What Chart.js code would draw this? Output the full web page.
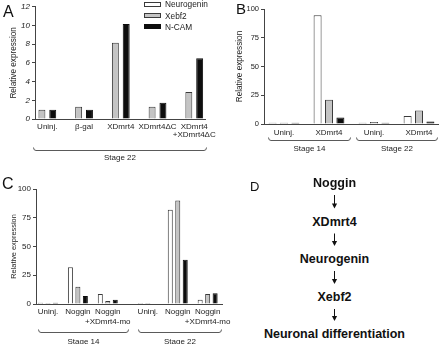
<!DOCTYPE html>
<html>
<head>
<meta charset="utf-8">
<script src="https://cdn.jsdelivr.net/npm/chart.js@4/dist/chart.umd.min.js"></script>
<style>
  html, body { margin: 0; padding: 0; background: #fff; }
  body { width: 440px; height: 344px; position: relative; overflow: hidden;
         font-family: "Liberation Sans", Arial, sans-serif; color: #111; }
  canvas { position: absolute; }
  .letter { position: absolute; line-height: 1; }
  .step { position: absolute; left: 334.5px; transform: translate(-50%, -50%);
          font-weight: bold; font-size: 12.5px; line-height: 1; white-space: nowrap; color: #111; }
  svg { position: absolute; left: 0; top: 0; }
</style>
</head>
<body>
<canvas id="chartA" width="220" height="170" style="left:0;top:0"></canvas>
<canvas id="chartB" width="220" height="170" style="left:220px;top:0"></canvas>
<canvas id="chartC" width="240" height="174" style="left:0;top:170px"></canvas>

<div class="letter" style="left:3px;top:4.4px;font-size:16px">A</div>
<div class="letter" style="left:236px;top:0.5px;font-size:15px">B</div>
<div class="letter" style="left:2px;top:176px;font-size:16px">C</div>
<div class="letter" style="left:250px;top:180.3px;font-size:13px">D</div>

<div id="pathway"></div>

<script>
// ---- series shared by all three bar panels ----
const seriesNames = ['Neurogenin', 'Xebf2', 'N-CAM'];

// ---- panel A: stage 22 (Neurogenin not measured) ----
const categoriesA = ['Uninj.', 'β-gal', 'XDmrt4', 'XDmrt4ΔC', ['XDmrt4', '+XDmrt4ΔC']];
const neurogeninA = [null, null, null, null, null];
const xebf2A      = [1.0, 1.3, 8.15, 1.3, 2.9];
const ncamA       = [1.0, 1.0, 10.15, 1.75, 6.5];
const yTicksA     = [0, 2, 4, 6, 8, 10, 12];
const stagesA     = [{ label: 'Stage 22', count: 5 }];

// ---- panel B: stage 14 and stage 22 ----
const categoriesB = ['Uninj.', 'XDmrt4', 'Uninj.', 'XDmrt4'];
const neurogeninB = [1.0, 94.5, 1.0, 7.0];
const xebf2B      = [1.0, 21.0, 1.8, 11.8];
const ncamB       = [1.0, 5.6, 1.0, 2.2];
const yTicksB     = [0, 25, 50, 75, 100];
const stagesB     = [{ label: 'Stage 14', count: 2 }, { label: 'Stage 22', count: 2 }];

// ---- panel C: Noggin caps, with and without XDmrt4 morpholino ----
const categoriesC = ['Uninj.', 'Noggin', ['Noggin', '+XDmrt4-mo'], 'Uninj.', 'Noggin', ['Noggin', '+XDmrt4-mo']];
const neurogeninC = [1.0, 32.0, 8.8, 0.9, 82.0, 3.6];
const xebf2C      = [0.9, 15.0, 2.6, 0.1, 90.0, 8.6];
const ncamC       = [1.0, 7.0, 3.6, 0.4, 38.5, 9.4];
const yTicksC     = [0, 25, 50, 75, 100];
const stagesC     = [{ label: 'Stage 14', count: 3 }, { label: 'Stage 22', count: 3 }];

// ---- panel D: proposed cascade ----
const cascade = ['Noggin', 'XDmrt4', 'Neurogenin', 'Xebf2', 'Neuronal differentiation'];

// ---- styling ----
const FONT = '"Liberation Sans", Arial, sans-serif';
const AXIS = '#444';
const TEXT = '#1c1c1c';
const fills   = ['#ffffff', '#c4c4c4', '#0d0d0d'];
const strokes = ['#3a3a3a', '#3a3a3a', '#0d0d0d'];

// Bracket under each stage group with its label
const stageBrackets = {
  id: 'stageBrackets',
  afterDraw(chart, args, o) {
    if (!o || !o.items) return;
    const { ctx } = chart;
    const xs = chart.scales.x;
    ctx.save();
    ctx.strokeStyle = o.color;
    ctx.lineWidth = 1;
    ctx.fillStyle = o.textColor;
    ctx.font = o.font;
    ctx.textAlign = 'center';
    ctx.textBaseline = 'middle';
    const y = Math.round(o.y) + 0.5;
    o.items.forEach(it => {
      const x0 = Math.round(xs.getPixelForValue(it.from)) + 0.5;
      const x1 = Math.round(xs.getPixelForValue(it.to)) + 0.5;
      ctx.beginPath();
      ctx.moveTo(x0, y - o.hook);
      ctx.quadraticCurveTo(x0, y, x0 + 2.5, y);
      ctx.lineTo(x1 - 2.5, y);
      ctx.quadraticCurveTo(x1, y, x1, y - o.hook);
      ctx.stroke();
      ctx.fillText(it.label, (x0 + x1) / 2, o.textY);
    });
    ctx.restore();
  }
};

// Small swatch legend listing the series
const boxLegend = {
  id: 'boxLegend',
  afterDraw(chart, args, o) {
    if (!o || !o.show) return;
    const { ctx } = chart;
    ctx.save();
    ctx.font = o.font;
    ctx.textAlign = 'left';
    ctx.textBaseline = 'middle';
    chart.data.datasets.forEach((ds, i) => {
      const cy = o.y + i * o.row;
      const top = Math.round(cy - o.boxH / 2);
      ctx.fillStyle = ds.backgroundColor;
      ctx.fillRect(o.x, top, o.boxW, o.boxH);
      ctx.strokeStyle = ds.borderColor;
      ctx.lineWidth = 1;
      ctx.strokeRect(o.x + 0.5, top + 0.5, o.boxW - 1, o.boxH - 1);
      ctx.fillStyle = o.color;
      ctx.fillText(ds.label, o.x + o.boxW + 4, cy + 0.5);
    });
    ctx.restore();
  }
};

// Category positions along the x axis, with an optional gap between stages
function stagePositions(stages, gap) {
  const pos = [];
  let x = 0;
  stages.forEach((s, k) => {
    if (k > 0) x += gap;
    for (let i = 0; i < s.count; i++) { pos.push(x); x += 1; }
  });
  return pos;
}

function makePanel(id, p) {
  const pos = stagePositions(p.stages, p.stageGap);
  const datasets = seriesNames.map((name, s) => ({
    label: name,
    data: p.values[s].map((v, i) => ({ x: pos[i], y: v })),
    backgroundColor: fills[s],
    borderColor: strokes[s],
    borderWidth: 1,
    categoryPercentage: p.catPct,
    barPercentage: p.barPct,
    skipNull: true
  }));

  // bracket spans, derived from the stage groups
  let start = 0;
  const items = p.stages.map((s, k) => {
    const first = pos[start], last = pos[start + s.count - 1];
    start += s.count;
    const pad = p.bracketPad[k];
    return { label: s.label, from: first - pad[0], to: last + pad[1] };
  });

  return new Chart(document.getElementById(id), {
    type: 'bar',
    data: { datasets },
    options: {
      responsive: false,
      animation: false,
      devicePixelRatio: 1,
      layout: { padding: p.padding },
      plugins: {
        legend: { display: false },
        tooltip: { enabled: false },
        stageBrackets: {
          items, y: p.bracketY, textY: p.bracketTextY, hook: 3,
          color: '#5a5a5a', textColor: TEXT, font: '8px ' + FONT
        },
        boxLegend: p.legend || { show: false }
      },
      scales: {
        x: {
          type: 'linear',
          offset: false,
          min: p.xMin, max: p.xMax,
          grid: { display: false, drawTicks: false, offset: false },
          border: { display: true, color: AXIS, width: 1 },
          afterBuildTicks: s => { s.ticks = pos.map(v => ({ value: v })); },
          afterFit: s => { s.height = p.xHeight; },
          ticks: {
            autoSkip: false, maxRotation: 0, minRotation: 0,
            padding: p.xPad, color: TEXT,
            font: { family: FONT, size: p.xFont, lineHeight: p.xLine },
            callback: (v, i) => p.categories[i]
          }
        },
        y: {
          min: 0, max: p.yTicks[p.yTicks.length - 1],
          afterBuildTicks: s => { s.ticks = p.yTicks.map(v => ({ value: v })); },
          afterFit: s => { s.width = p.yWidth; },
          grid: { display: true, drawOnChartArea: false, drawTicks: true, tickLength: 3, color: AXIS, lineWidth: 1 },
          border: { display: true, color: AXIS, width: 1 },
          ticks: {
            padding: 2, color: TEXT,
            font: { family: FONT, size: p.yFont, style: p.yStyle || 'normal' }
          },
          title: {
            display: true, text: 'Relative expression', color: TEXT,
            font: { family: FONT, size: p.titleFont, lineHeight: 1.2 },
            padding: { top: p.titlePad, bottom: 0 }
          }
        }
      }
    },
    plugins: [stageBrackets, boxLegend]
  });
}

makePanel('chartA', {
  categories: categoriesA, stages: stagesA, stageGap: 0,
  values: [neurogeninA, xebf2A, ncamA], yTicks: yTicksA,
  catPct: 0.59, barPct: 0.64,
  xMin: -0.3356, xMax: 4.309,
  padding: { top: 5, right: 12, left: 0, bottom: 0 },
  yWidth: 35, xHeight: 51,
  xPad: 3.5, xFont: 8, xLine: 1.05,
  yFont: 8, yStyle: 'italic', titleFont: 8.2, titlePad: 8.7,
  bracketPad: [[0.39, 0.31]], bracketY: 149.5, bracketTextY: 158,
  legend: { show: true, x: 144, y: 4.7, row: 11.1, boxW: 17, boxH: 5,
            font: '8.3px ' + FONT, color: TEXT }
});

makePanel('chartB', {
  categories: categoriesB, stages: stagesB, stageGap: 0,
  values: [neurogeninB, xebf2B, ncamB], yTicks: yTicksB,
  catPct: 0.76, barPct: 0.7,
  xMin: -0.444, xMax: 3.422,
  padding: { top: 9, right: 2, left: 0, bottom: 0 },
  yWidth: 44, xHeight: 46,
  xPad: 3.9, xFont: 8, xLine: 1.2,
  yFont: 7.5, titleFont: 8.2, titlePad: 15.2,
  bracketPad: [[0.356, 0.467], [0.4, 0.4]], bracketY: 140, bracketTextY: 149
});

makePanel('chartC', {
  categories: categoriesC, stages: stagesC, stageGap: 0.34,
  values: [neurogeninC, xebf2C, ncamC], yTicks: yTicksC,
  catPct: 0.75, barPct: 0.67,
  xMin: -0.401, xMax: 5.82,
  padding: { top: 19, right: 18, left: 0, bottom: 0 },
  yWidth: 36, xHeight: 40,
  xPad: 2.8, xFont: 8, xLine: 1.25,
  yFont: 8, titleFont: 7.4, titlePad: 9.5,
  bracketPad: [[0.334, 0.676], [0.33, 0.45]], bracketY: 162, bracketTextY: 172
});

// ---- panel D: cascade with arrows ----
(function drawCascade() {
  const host = document.getElementById('pathway');
  const rowY = [183, 221.5, 259, 297, 334];
  cascade.forEach((t, i) => {
    const d = document.createElement('div');
    d.className = 'step';
    d.style.top = rowY[i] + 'px';
    d.textContent = t;
    host.appendChild(d);
  });
  const ns = 'http://www.w3.org/2000/svg';
  const svg = document.createElementNS(ns, 'svg');
  svg.setAttribute('width', '440');
  svg.setAttribute('height', '344');
  const ax = 334.5;
  for (let i = 0; i < cascade.length - 1; i++) {
    const y0 = rowY[i] + 12, y1 = rowY[i + 1] - 13;
    const line = document.createElementNS(ns, 'line');
    line.setAttribute('x1', ax); line.setAttribute('x2', ax);
    line.setAttribute('y1', y0); line.setAttribute('y2', y1 - 4);
    line.setAttribute('stroke', '#111'); line.setAttribute('stroke-width', '1');
    svg.appendChild(line);
    const head = document.createElementNS(ns, 'polygon');
    head.setAttribute('points', `${ax - 2.6},${y1 - 5} ${ax + 2.6},${y1 - 5} ${ax},${y1}`);
    head.setAttribute('fill', '#111');
    svg.appendChild(head);
  }
  host.appendChild(svg);
})();
</script>
</body>
</html>
